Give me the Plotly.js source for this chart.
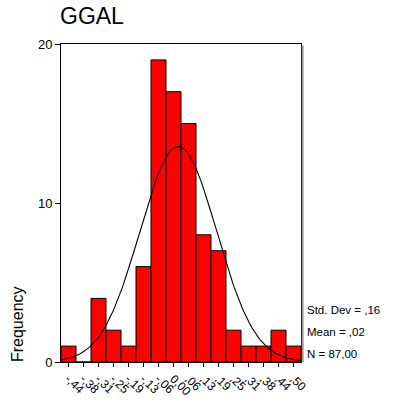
<!DOCTYPE html>
<html>
<head>
<meta charset="utf-8">
<script src="https://cdn.plot.ly/plotly-3.0.1.min.js"></script>
<style>html,body{margin:0;padding:0;background:#fff;}#chart{width:394px;height:402px;}</style>
</head>
<body>
<div id="chart"></div>
<script>
// Bin centres of the histogram and their SPSS-style labels
var binCenters = [-0.4375, -0.375, -0.3125, -0.25, -0.1875, -0.125, -0.0625, 0, 0.0625, 0.125, 0.1875, 0.25, 0.3125, 0.375, 0.4375, 0.5];
var tickLabels = ["-,44", "-,38", "-,31", "-,25", "-,19", "-,13", "-,06", "0,00", ",06", ",13", ",19", ",25", ",31", ",38", ",44", ",50"];
var frequencies = [1, 0, 4, 2, 1, 6, 19, 17, 15, 8, 7, 2, 1, 1, 2, 1];
var binWidth = 0.0625;
// Summary statistics shown on the chart
var statMean = 0.02;
var statStd = 0.16;
var statN = 87;
var statLabels = ["Std. Dev = ,16", "Mean = ,02", "N = 87,00"];

// Fitted normal curve (scaled to counts) from the displayed statistics
var xMin = binCenters[0] - binWidth / 2;
var xMax = binCenters[binCenters.length - 1] + binWidth / 2;
var curveX = [], curveY = [];
var steps = 200;
for (var i = 0; i <= steps; i++) {
  var x = xMin + (xMax - xMin) * i / steps;
  var z = (x - statMean) / statStd;
  curveX.push(x);
  curveY.push(statN * binWidth / (statStd * Math.sqrt(2 * Math.PI)) * Math.exp(-0.5 * z * z));
}

var font = "Liberation Sans, Arial, sans-serif";

var traces = [
  {
    type: "bar",
    x: binCenters,
    y: frequencies,
    width: binWidth,
    marker: {color: "#ff0000", line: {color: "#000000", width: 1}},
    hoverinfo: "none"
  },
  {
    type: "scatter",
    mode: "lines",
    x: curveX,
    y: curveY,
    line: {color: "#000000", width: 1.1},
    hoverinfo: "none"
  }
];

var statAnn = statLabels.map(function (t, k) {
  return {
    text: t, xref: "paper", yref: "paper",
    x: 1.017, y: [0.1635, 0.0943, 0.0252][k],
    xanchor: "left", yanchor: "middle", showarrow: false,
    font: {family: font, size: 11.5, color: "#000"}
  };
});

var layout = {
  width: 394, height: 402,
  margin: {l: 61, r: 93, t: 44, b: 40},
  paper_bgcolor: "#fff", plot_bgcolor: "#fff",
  showlegend: false,
  xaxis: {
    range: [xMin, xMax],
    tickvals: binCenters, ticktext: tickLabels,
    tickangle: 45,
    ticks: "outside", ticklen: 4, tickcolor: "#000", tickwidth: 1,
    showline: true, linecolor: "#000", linewidth: 1, mirror: true,
    showgrid: false, zeroline: false,
    tickfont: {family: font, size: 12, color: "#000"},
    fixedrange: true
  },
  yaxis: {
    range: [0, 20],
    tickvals: [0, 10, 20],
    ticks: "outside", ticklen: 5, tickcolor: "#000", tickwidth: 1,
    showline: true, linecolor: "#000", linewidth: 1, mirror: true,
    showgrid: false, zeroline: false,
    tickfont: {family: font, size: 13, color: "#000"},
    fixedrange: true
  },
  shapes: [
    {type: "line", xref: "paper", yref: "paper", x0: 1.007, x1: 1.007, y0: 0, y1: 0.995,
     line: {color: "#9a9a9a", width: 2}}
  ],
  annotations: [
    {
      text: "GGAL", xref: "paper", yref: "paper",
      x: -0.012, y: 1.088, xanchor: "left", yanchor: "middle", showarrow: false,
      font: {family: font, size: 23, color: "#000"}
    },
    {
      text: "Frequency", xref: "paper", yref: "paper",
      x: -0.179, y: 0.1195, xanchor: "center", yanchor: "middle", showarrow: false,
      textangle: -90,
      font: {family: font, size: 16, color: "#000"}
    }
  ].concat(statAnn)
};

Plotly.newPlot("chart", traces, layout, {displayModeBar: false, staticPlot: true});
</script>
</body>
</html>
